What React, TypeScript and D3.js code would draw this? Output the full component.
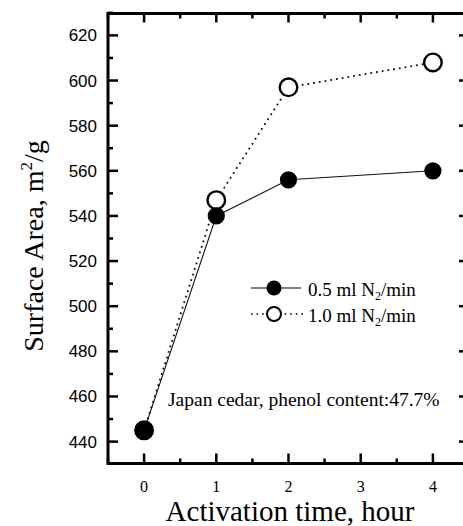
import * as d3 from 'd3';

const hours = [0, 1, 2, 4];
const lowFlow = [445, 540, 556, 560];
const highFlow = [445, 547, 597, 608];
const xTickValues = [0, 1, 2, 3, 4];
const xMinorValues = [-0.5, 0.5, 1.5, 2.5, 3.5, 4.5];
const yTickValues = [440, 460, 480, 500, 520, 540, 560, 580, 600, 620];
const yMinorValues = [450, 470, 490, 510, 530, 550, 570, 590, 610, 630];
const seriesNames = ['0.5 ml N', '1.0 ml N'];

const W = 463, H = 526;
const left = 108, right = 469, top = 13.5, bottom = 463.5;
const serif = '"Liberation Serif", "Times New Roman", serif';
const sans = '"Liberation Sans", Arial, sans-serif';

export default function App() {
  const x = d3.scaleLinear().domain([-0.5, 4.5]).range([left, right]);
  const y = d3.scaleLinear().domain([430.3, 629.7]).range([bottom, top]);

  const line = d3.line<number>()
    .x((_, i) => x(hours[i]))
    .y((d) => y(d));

  return (
    <svg width={W} height={H} style={{ position: 'absolute', left: 0, top: 0, background: '#fff' }}>
      {/* data lines */}
      <path d={line(highFlow) || ''} fill="none" stroke="#111" strokeWidth={1.8} strokeDasharray="1.8,4" />
      <path d={line(lowFlow) || ''} fill="none" stroke="#111" strokeWidth={1.1} />

      {/* markers, open first so the filled ones sit on top */}
      {highFlow.map((v, i) => (
        <circle key={'h' + i} cx={x(hours[i])} cy={y(v)} r={8.8} fill="#fff" stroke="#000" strokeWidth={2.4} />
      ))}
      {lowFlow.map((v, i) => (
        <circle key={'l' + i} cx={x(hours[i])} cy={y(v)} r={8.6} fill="#000" />
      ))}

      {/* frame */}
      <path d={`M${left},${top}H${right}V${bottom}H${left}Z`} fill="none" stroke="#000" strokeWidth={3} />

      {/* x ticks bottom & top */}
      {xTickValues.map((t) => (
        <g key={'xt' + t}>
          <line x1={x(t)} x2={x(t)} y1={bottom} y2={bottom - 10} stroke="#000" strokeWidth={2.5} />
          <line x1={x(t)} x2={x(t)} y1={top} y2={top + 9} stroke="#000" strokeWidth={2.5} />
          <text x={x(t)} y={492} textAnchor="middle" fontFamily={serif} fontSize={16}>{t}</text>
        </g>
      ))}
      {xMinorValues.map((t) => (
        <g key={'xm' + t}>
          <line x1={x(t)} x2={x(t)} y1={bottom} y2={bottom - 5} stroke="#000" strokeWidth={2.5} />
          <line x1={x(t)} x2={x(t)} y1={top} y2={top + 5} stroke="#000" strokeWidth={2.5} />
        </g>
      ))}

      {/* y ticks left & right */}
      {yTickValues.map((t) => (
        <g key={'yt' + t}>
          <line x1={left} x2={left + 10} y1={y(t)} y2={y(t)} stroke="#000" strokeWidth={2.5} />
          <line x1={right} x2={right - 10} y1={y(t)} y2={y(t)} stroke="#000" strokeWidth={2.5} />
          <text x={97} y={y(t) + 6} textAnchor="end" fontFamily={sans} fontSize={17}>{t}</text>
        </g>
      ))}
      {yMinorValues.map((t) => (
        <g key={'ym' + t}>
          <line x1={left} x2={left + 5} y1={y(t)} y2={y(t)} stroke="#000" strokeWidth={2.5} />
          <line x1={right} x2={right - 5} y1={y(t)} y2={y(t)} stroke="#000" strokeWidth={2.5} />
        </g>
      ))}

      {/* axis titles */}
      <text x={290} y={521} textAnchor="middle" fontFamily={serif} fontSize={29}>Activation time, hour</text>
      <text transform="translate(43,246) rotate(-90)" textAnchor="middle" fontFamily={serif} fontSize={28}>
        Surface Area, m<tspan dy={-11} fontSize={17}>2</tspan><tspan dy={11}>/g</tspan>
      </text>

      {/* legend */}
      <line x1={251} x2={301} y1={288} y2={288} stroke="#000" strokeWidth={1.1} />
      <circle cx={274} cy={288} r={7.5} fill="#000" />
      <line x1={251} x2={303} y1={314} y2={314} stroke="#000" strokeWidth={1.6} strokeDasharray="1.6,4" />
      <circle cx={274} cy={314} r={7} fill="#fff" stroke="#000" strokeWidth={2} />
      {seriesNames.map((s, i) => (
        <text key={s} x={308} y={296 + i * 26} fontFamily={serif} fontSize={19}>
          {s}<tspan dy={4} fontSize={12}>2</tspan><tspan dy={-4}>/min</tspan>
        </text>
      ))}

      <text x={168} y={406} fontFamily={serif} fontSize={19.5}>Japan cedar, phenol content:47.7%</text>
    </svg>
  );
}
